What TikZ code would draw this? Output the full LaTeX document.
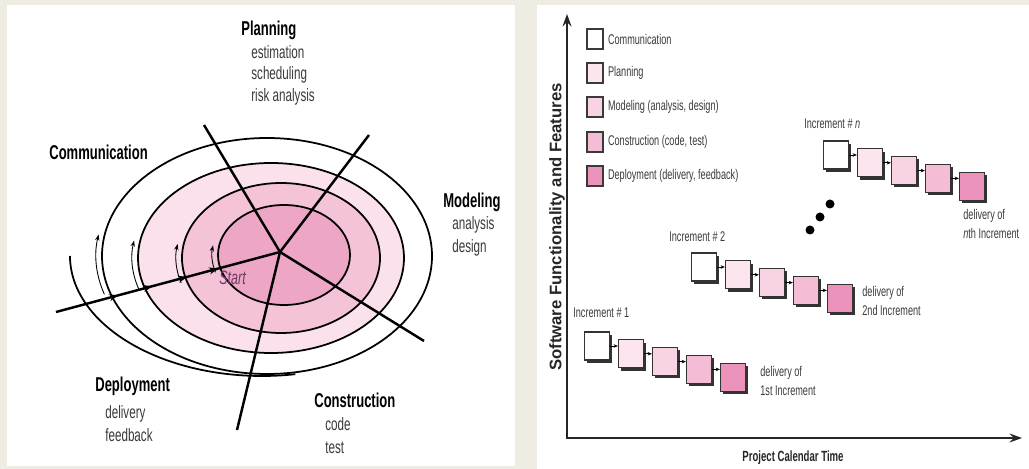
\documentclass[tikz,border=0pt]{standalone}
\usepackage{fontspec}
\setmainfont{Liberation Sans}
\newfontfamily\condfont[FakeStretch=0.65]{Liberation Sans}
\usetikzlibrary{arrows.meta,decorations.markings,shadows}

\definecolor{paper}{HTML}{EEECE3}
\definecolor{ringlight}{HTML}{FBE1EC}
\definecolor{ringmid}{HTML}{F5C3D8}
\definecolor{ringdark}{HTML}{EEA6C6}
\definecolor{planfill}{HTML}{FCE5EF}
\definecolor{modelfill}{HTML}{F8D3E3}
\definecolor{constfill}{HTML}{F4BDD5}
\definecolor{deployfill}{HTML}{EC93BB}
\definecolor{inkgray}{HTML}{3A3A3A}
\definecolor{startcol}{HTML}{6E3A64}

\tikzset{
  head/.style={font=\condfont\bfseries\fontsize{11.4}{13}\selectfont, inner sep=0pt, anchor=north west},
  tasks/.style={font=\condfont\fontsize{10.2}{13.2}\selectfont, text=inkgray, align=left, inner sep=0pt, anchor=north west},
  spoke/.style={line width=1.4pt},
  ring/.style={line width=1pt},
  ringarrow/.style={line width=0.5pt, -{Stealth[length=3.5pt,width=2.5pt]}},
  legbox/.style={draw=inkgray, line width=0.7pt, minimum width=0.32cm, minimum height=0.4cm, inner sep=0pt},
  incbox/.style={draw=black!80, line width=0.6pt, minimum width=0.5cm, minimum height=0.56cm, inner sep=0pt,
    drop shadow={shadow xshift=1.6pt, shadow yshift=-1.6pt, fill=black!80, opacity=1}},
  small/.style={font=\condfont\fontsize{8}{10.8}\selectfont, text=inkgray, inner sep=0pt},
  conn/.style={line width=0.5pt, -{Stealth[length=2.5pt,width=2pt]}},
  axis/.style={line width=1.2pt, draw=black!85, {Stealth[length=7pt,width=5pt]}-{Stealth[length=7pt,width=5pt]}}
}

\begin{document}
\begin{tikzpicture}[x=0.02cm,y=-0.02cm]
% page and the two panels
\fill[paper] (0,0) rectangle (1029,469);
\fill[white] (7,5) rectangle (515,466);
\fill[white] (537,5) rectangle (1029,469);
\useasboundingbox (0,0) rectangle (1029,469);

% spiral rings, outer to inner
\foreach \cx/\cy/\rx/\ry/\col in {267/256/165/118/white, 271/258/133/95/ringlight,
    281/258/99/75/ringmid, 284/255/66/50/ringdark}
  \filldraw[ring, fill=\col] (\cx,\cy) ellipse [x radius=\rx, y radius=\ry];
\draw[ring] (70,256) arc [start angle=180, end angle=80, x radius=192, y radius=120];

% little arrows on the left of each ring
\foreach \cx/\cy/\rx/\ry in {267/256/171/124, 271/258/139/101, 281/258/105/81, 284/255/72/56}
  \draw[ringarrow] (\cx,\cy) ++(162:{\rx} and {\ry}) arc [start angle=162, end angle=190, x radius=\rx, y radius=\ry];

% spokes
\coordinate (hub) at (280,252);
\coordinate (planend) at (204,125);
\coordinate (modelend) at (369,135);
\coordinate (constend) at (424,341);
\coordinate (deployend) at (237,430);
\coordinate (startend) at (56,312);
\foreach \e in {planend,modelend,constend,deployend}
  \draw[spoke] (hub) -- (\e);
\draw[spoke, postaction={decorate}, decoration={markings,
    mark=at position 0.277 with {\arrow{Stealth[length=5pt,width=4pt]}},
    mark=at position 0.429 with {\arrow{Stealth[length=5pt,width=4pt]}},
    mark=at position 0.585 with {\arrow{Stealth[length=5pt,width=4pt]}},
    mark=at position 0.723 with {\arrow{Stealth[length=5pt,width=4pt]}}}]
  (startend) -- (hub);
\node[font=\condfont\itshape\fontsize{11}{13}\selectfont, text=startcol, anchor=west, inner sep=0pt] (start) at (219,278) {Start};

% activity labels
\node[head] (plan) at (241,21) {Planning};
\node[tasks, font=\condfont\fontsize{10.2}{12.2}\selectfont] (plantasks) at (251,45) {estimation\\scheduling\\risk analysis};
\node[head] (comm) at (49,145) {Communication};
\node[head] (model) at (443,193) {Modeling};
\node[tasks] (modeltasks) at (452,216) {analysis\\design};
\node[head] (deploy) at (95,377) {Deployment};
\node[tasks] (deploytasks) at (105,405) {delivery\\feedback};
\node[head] (constr) at (314,393) {Construction};
\node[tasks] (constrtasks) at (325,417) {code\\test};

% axes
\coordinate (origin) at (567,438);
\coordinate (ytip) at (567,14);
\coordinate (xtip) at (1022,438);
\draw[axis] (ytip) -- (origin) -- (xtip);
\node[rotate=90, font=\bfseries\fontsize{9.5}{11}\selectfont, text=black!85] (ylab) at (557,227) {Software Functionality and Features};
\node[font=\condfont\bfseries\fontsize{8.4}{10}\selectfont, text=black!85] (xlab) at (793,458) {Project Calendar Time};

% legend
\foreach \row/\col/\txt [count=\n] in {39/white/Communication, 73/planfill/Planning,
    107/modelfill/{Modeling (analysis, design)}, 142/constfill/{Construction (code, test)},
    176/deployfill/{Deployment (delivery, feedback)}} {
  \node[legbox, fill=\col] (key\n) at (595,\row) {};
  \node[small, anchor=west] (keytext\n) at ([xshift=2.3pt]key\n.east) {\txt};
}

% increments
\foreach \k/\x/\y in {1/597/346, 2/704/267, n/836/155} {
  \foreach \col [count=\i] in {white,planfill,modelfill,constfill,deployfill}
    \node[incbox, fill=\col] (inc\k-\i) at ({\x+34*(\i-1)},{\y+7.8*(\i-1)}) {};
  \foreach \i/\j in {1/2,2/3,3/4,4/5}
    \draw[conn] (inc\k-\i.east) -- (inc\k-\i.east -| inc\k-\j.west);
}
\node[small, anchor=west] (inc1lab) at (573,313) {Increment \# 1};
\node[small, anchor=west] (inc2lab) at (669,237) {Increment \# 2};
\node[small, anchor=west] (incnlab) at (804,124) {Increment \# \textit{n}};
\node[small, align=left, anchor=north west] (deliv1) at (760,366) {delivery of\\1st Increment};
\node[small, align=left, anchor=north west] (deliv2) at (862,286) {delivery of\\2nd Increment};
\node[small, align=left, anchor=north west] (delivn) at (963,209) {delivery of\\\textit{n}th Increment};

% dots between increments
\foreach \px/\py in {810/230, 820/217, 830/204}
  \fill[black] (\px,\py) circle [radius=4.5];
\end{tikzpicture}
\end{document}
